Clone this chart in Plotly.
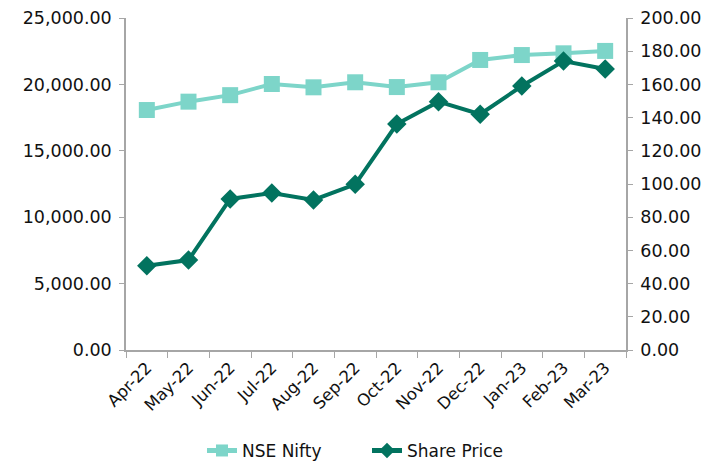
import plotly.graph_objects as go

months = ["Apr-22", "May-22", "Jun-22", "Jul-22", "Aug-22", "Sep-22",
          "Oct-22", "Nov-22", "Dec-22", "Jan-23", "Feb-23", "Mar-23"]
nse_nifty = [18070, 18700, 19190, 20030, 19780, 20160,
             19800, 20160, 21840, 22210, 22340, 22520]
share_price = [50.8, 54.2, 91.0, 94.6, 90.4, 99.8,
               136.1, 149.6, 142.0, 159.0, 174.1, 169.3]

NIFTY_COLOR = "#7dd5c9"
SHARE_COLOR = "#02735f"
AXIS_COLOR = "#a6a6a6"
FONT = "'DejaVu Sans', sans-serif"

fig = go.Figure()
fig.add_trace(go.Scatter(
    x=months, y=nse_nifty, name="NSE Nifty", mode="lines+markers",
    line=dict(color=NIFTY_COLOR, width=4),
    marker=dict(symbol="square", size=16, color=NIFTY_COLOR),
    yaxis="y"))
fig.add_trace(go.Scatter(
    x=months, y=share_price, name="Share Price", mode="lines+markers",
    line=dict(color=SHARE_COLOR, width=4),
    marker=dict(symbol="diamond", size=15, color=SHARE_COLOR),
    yaxis="y2"))

# The page body has an 8px margin, so the figure is drawn 8px in from the
# top-left corner of the window; size and margins compensate for that.
fig.update_layout(
    width=712, height=454,
    margin=dict(l=118, r=94, t=10, b=112, autoexpand=False),
    paper_bgcolor="white", plot_bgcolor="white",
    font=dict(family=FONT, size=16, color="#111111"),
    showlegend=True,
    legend=dict(orientation="h", x=0.40, xanchor="left", y=-0.304, yanchor="middle",
                font=dict(size=17), tracegroupgap=0, itemsizing="constant",
                entrywidth=120),
    xaxis=dict(type="category", range=[-0.5, len(months) - 0.5],
               showline=True, linecolor=AXIS_COLOR, linewidth=1.5,
               ticks="outside", tickson="boundaries", ticklen=6, tickcolor=AXIS_COLOR,
               tickangle=-45, showgrid=False, zeroline=False, automargin=False,
               tickfont=dict(size=16.5)),
    yaxis=dict(range=[0, 25000], dtick=5000, tickformat=",.2f", showline=True,
               linecolor=AXIS_COLOR, linewidth=1.5, ticks="outside", ticklen=5,
               tickcolor=AXIS_COLOR, showgrid=False, zeroline=False, automargin=False,
               ticklabelstandoff=4, tickfont=dict(size=17.5)),
    yaxis2=dict(range=[0, 200], dtick=20, tickformat=",.2f", overlaying="y",
                side="right", showline=True, linecolor=AXIS_COLOR, linewidth=1.5,
                ticks="outside", ticklen=5, tickcolor=AXIS_COLOR, showgrid=False,
                zeroline=False, automargin=False, ticklabelstandoff=4,
                tickfont=dict(size=17.5)),
)
fig.update_layout(legend_x=(204 - 8 - 118 - 2) / 500)

fig.write_html("out.html")
